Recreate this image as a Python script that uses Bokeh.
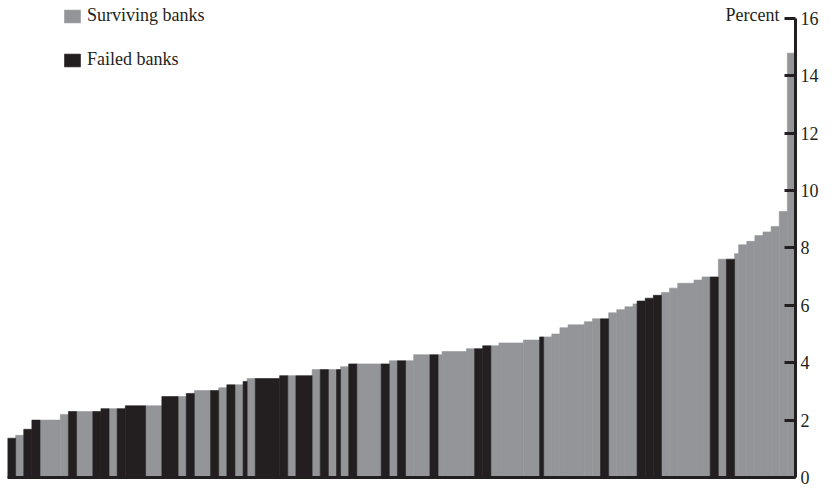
from bokeh.plotting import figure
from bokeh.models import ColumnDataSource, Range1d, FixedTicker, Legend, LegendItem, Label
from bokeh.embed import file_html
from bokeh.resources import INLINE
import numpy as np

# Sorted capital ratios (percent); S = surviving bank, F = failed bank; banks = number of banks in run
values = [1.37, 1.47, 1.68, 2.00, 2.00, 2.20, 2.30, 2.30, 2.30, 2.40, 2.40, 2.40, 2.50, 2.50,
          2.82, 2.82, 2.93, 3.03, 3.03, 3.13, 3.23, 3.23, 3.35, 3.45, 3.45, 3.55, 3.55, 3.55,
          3.76, 3.76, 3.76, 3.76, 3.86, 3.96, 3.96, 3.96, 4.07, 4.07, 4.07, 4.28, 4.28, 4.28,
          4.39, 4.49, 4.49, 4.59, 4.59, 4.69, 4.79, 4.90, 4.90, 5.00, 5.22, 5.32, 5.43, 5.53,
          5.53, 5.74, 5.85, 5.95, 6.05, 6.15, 6.25, 6.35, 6.45, 6.60, 6.77, 6.88, 6.99, 6.99,
          7.61, 7.61, 7.80, 8.11, 8.23, 8.43, 8.56, 8.75, 9.27, 14.79]
status = ["F", "S", "F", "F", "S", "S", "F", "S", "F", "F", "S", "F", "F", "S",
          "F", "S", "F", "S", "F", "S", "F", "S", "F", "S", "F", "F", "S", "F",
          "S", "F", "S", "F", "S", "F", "S", "F", "S", "F", "S", "S", "F", "S",
          "S", "S", "F", "F", "S", "S", "S", "F", "S", "S", "S", "S", "S", "S",
          "F", "S", "S", "S", "S", "F", "F", "F", "S", "S", "S", "S", "S", "F",
          "S", "F", "S", "S", "S", "S", "S", "S", "S", "S"]
banks = [2, 2, 2, 2, 5, 2, 2, 4, 2, 2, 2, 2, 5, 4,
         4, 2, 2, 4, 2, 2, 2, 2, 1, 2, 6, 2, 2, 4,
         2, 2, 2, 1, 2, 2, 6, 2, 2, 2, 2, 4, 2, 1,
         6, 2, 2, 2, 2, 6, 4, 1, 2, 2, 2, 4, 2, 2,
         2, 2, 2, 2, 1, 2, 2, 2, 2, 2, 4, 2, 2, 2,
         2, 2, 1, 2, 2, 2, 2, 2, 2, 2]
y_ticks = [0, 2, 4, 6, 8, 10, 12, 14, 16]

GRAY = "#939598"
BLACK = "#231f20"
FONT = "Liberation Serif"

banks_arr = np.array(banks, dtype=float)
left = np.concatenate([[0.0], np.cumsum(banks_arr)[:-1]])
centers = left + banks_arr / 2
total = float(banks_arr.sum())

def subset(flag):
    idx = [i for i, s in enumerate(status) if s == flag]
    return ColumnDataSource(dict(x=[centers[i] for i in idx],
                                 w=[banks[i] for i in idx],
                                 top=[values[i] for i in idx]))

p = figure(width=821, height=488, output_backend="svg", toolbar_location=None,
           x_range=Range1d(0, total), y_range=Range1d(0, 16.52),
           y_axis_location="right",
           min_border_left=7, min_border_top=3, min_border_bottom=11, min_border_right=0)
p.outline_line_color = None
p.xgrid.visible = False
p.ygrid.visible = False
p.background_fill_color = "white"
p.border_fill_color = "white"

r_s = p.vbar(x="x", width="w", top="top", bottom=0, source=subset("S"),
             fill_color=GRAY, line_color=GRAY, line_width=0.6)
r_f = p.vbar(x="x", width="w", top="top", bottom=0, source=subset("F"),
             fill_color=BLACK, line_color=BLACK, line_width=0.6)

# right axis
ya = p.yaxis[0]
ya.ticker = FixedTicker(ticks=y_ticks)
ya.bounds = (0, 16)
ya.axis_line_width = 3
ya.axis_line_color = BLACK
ya.major_tick_line_width = 3
ya.major_tick_line_color = BLACK
ya.major_tick_in = 11
ya.major_tick_out = 0
ya.minor_tick_line_color = None
ya.major_label_standoff = 5
ya.major_label_text_font = FONT
ya.major_label_text_font_size = "18px"
ya.major_label_text_color = BLACK

# bottom baseline (no ticks, no labels)
xa = p.xaxis[0]
xa.ticker = FixedTicker(ticks=[])
xa.axis_line_width = 3
xa.axis_line_color = BLACK
xa.major_tick_line_color = None
xa.minor_tick_line_color = None
xa.major_label_standoff = 0

legend = Legend(items=[LegendItem(label="Surviving banks", renderers=[r_s]),
                       LegendItem(label="Failed banks", renderers=[r_f])],
                location=(55, 407), orientation="vertical",
                glyph_width=20, glyph_height=16, label_height=20, label_standoff=5, spacing=23,
                padding=0, margin=0, border_line_color=None, background_fill_alpha=0,
                label_text_font=FONT, label_text_font_size="18px", label_text_color=BLACK)
p.add_layout(legend, "center")

p.add_layout(Label(x=total, y=16, x_offset=-16, y_offset=3, text="Percent",
                   text_align="right", text_baseline="middle",
                   text_font=FONT, text_font_size="18px", text_color=BLACK))

open("out.html", "w").write(file_html(p, INLINE))
